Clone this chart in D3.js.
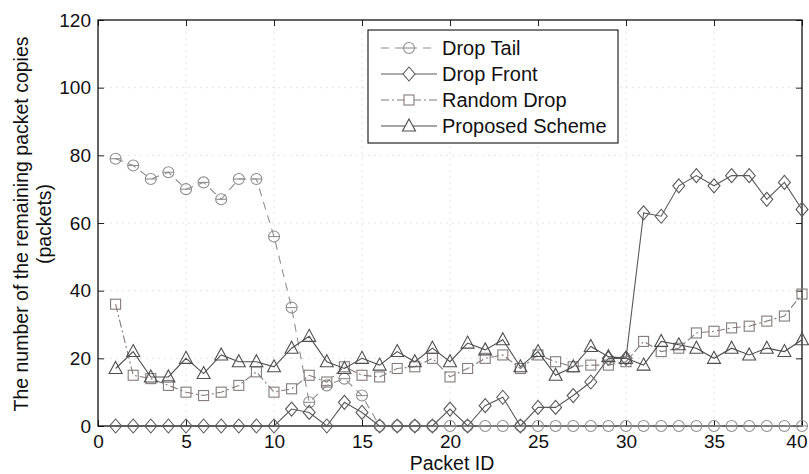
<!DOCTYPE html>
<html>
<head>
<meta charset="utf-8">
<script src="https://cdn.jsdelivr.net/npm/d3@7"></script>
<style>
  html, body { margin: 0; padding: 0; background: #fff; }
  svg { display: block; font-family: "Liberation Sans", Arial, Helvetica, sans-serif; }
</style>
</head>
<body>
<svg id="chart" width="809" height="474"></svg>
<script>
// Packet IDs 1..40
const packetIds = d3.range(1, 41);

// Remaining copies per packet for each buffer policy
const dropTail = [79, 77, 73, 75, 70, 72, 67, 73, 73, 56,
                  35, 7, 12, 14, 9, 0, 0, 0, 0, 0,
                  0, 0, 0, 0, 0, 0, 0, 0, 0, 0,
                  0, 0, 0, 0, 0, 0, 0, 0, 0, 0];
const dropFront = [0, 0, 0, 0, 0, 0, 0, 0, 0, 0,
                   5, 4, 0, 7, 4, 0, 0, 0, 0, 5,
                   0, 6, 8.5, 0, 5.5, 5.5, 9, 13, 20, 20,
                   63, 62, 71, 74, 71, 74, 74, 67, 72, 64];
const randomDrop = [36, 15, 14, 12, 10, 9, 10, 12, 16, 10,
                    11, 15, 13, 17.5, 15, 14.5, 17, 17.5, 20, 14.5,
                    17, 20, 21, 17, 21, 19, 17.5, 18, 18, 19,
                    25, 22, 23, 27.5, 28, 29, 29.5, 31, 32.5, 39];
const proposed = [17, 22, 14.5, 14.5, 20, 15.5, 21, 19, 19, 17.5,
                  23, 26.5, 19, 17, 20, 18, 22, 19, 23, 19,
                  24.5, 22.5, 25.5, 17.5, 22, 15, 17.5, 23.5, 20.5, 20,
                  18, 25, 24, 23, 20, 23, 21, 23, 22, 25.5];

const xTicks = [0, 5, 10, 15, 20, 25, 30, 35, 40];
const yTicks = [0, 20, 40, 60, 80, 100, 120];
const seriesNames = ["Drop Tail", "Drop Front", "Random Drop", "Proposed Scheme"];

(function draw() {
  const svg = d3.select("#chart");
  const plotL = 98, plotR = 802, plotT = 20, plotB = 426;

  const x = d3.scaleLinear().domain([0, 40]).range([plotL, plotR]);
  const y = d3.scaleLinear().domain([0, 120]).range([plotB, plotT]);

  // Faint dotted grid
  const grid = svg.append("g").attr("stroke", "#e4e4e4").attr("stroke-width", 1)
    .attr("stroke-dasharray", "2,4");
  grid.selectAll("line.h").data(yTicks.slice(1, -1)).join("line").attr("class", "h")
    .attr("x1", plotL).attr("x2", plotR)
    .attr("y1", d => y(d)).attr("y2", d => y(d));
  grid.selectAll("line.v").data(xTicks.slice(1, -1)).join("line").attr("class", "v")
    .attr("y1", plotT).attr("y2", plotB)
    .attr("x1", d => x(d)).attr("x2", d => x(d));

  // Axes with inward ticks on all four sides
  const tickLen = 6;
  const fontTick = 19;
  const gx = svg.append("g").attr("transform", `translate(0,${plotB})`)
    .call(d3.axisBottom(x).tickValues(xTicks).tickSizeInner(-tickLen).tickSizeOuter(0).tickPadding(9));
  const gxTop = svg.append("g").attr("transform", `translate(0,${plotT})`)
    .call(d3.axisTop(x).tickValues(xTicks).tickSizeInner(-tickLen).tickSizeOuter(0).tickFormat(""));
  const gy = svg.append("g").attr("transform", `translate(${plotL},0)`)
    .call(d3.axisLeft(y).tickValues(yTicks).tickSizeInner(-tickLen).tickSizeOuter(0).tickPadding(7));
  const gyRight = svg.append("g").attr("transform", `translate(${plotR},0)`)
    .call(d3.axisRight(y).tickValues(yTicks).tickSizeInner(-tickLen).tickSizeOuter(0).tickFormat(""));

  [gx, gxTop, gy, gyRight].forEach(g => {
    g.select(".domain").remove();
    g.selectAll(".tick line").attr("stroke", "#222").attr("stroke-width", 1);
    g.selectAll("text").attr("font-size", fontTick).attr("fill", "#111")
      .attr("font-family", "Liberation Sans, Arial, sans-serif");
  });
  // The last x label sits against the page edge; anchor it so it stays inside
  gx.selectAll(".tick").filter(d => d === 40).select("text")
    .attr("text-anchor", "end").attr("dx", 5);

  // Plot frame
  svg.append("rect").attr("x", plotL).attr("y", plotT)
    .attr("width", plotR - plotL).attr("height", plotB - plotT)
    .attr("fill", "none").attr("stroke", "#111").attr("stroke-width", 1.3);

  // Axis titles
  svg.append("text").attr("x", (plotL + plotR) / 2 + 2).attr("y", 470)
    .attr("text-anchor", "middle").attr("font-size", 19.5).attr("fill", "#111")
    .text("Packet ID");
  const yTitle = svg.append("text")
    .attr("transform", `translate(28,${(plotT + plotB) / 2 + 1}) rotate(-90)`)
    .attr("text-anchor", "middle").attr("font-size", 19.5).attr("fill", "#111");
  yTitle.append("tspan").attr("x", 0).attr("dy", 0).text("The number of the remaining packet copies");
  yTitle.append("tspan").attr("x", 0).attr("dy", 23).text("(packets)");

  // Open marker symbols
  const markers = {
    circle: (g) => g.append("circle").attr("r", 5.5),
    diamond: (g) => g.append("path").attr("d", "M0,-7L6,0L0,7L-6,0Z"),
    square: (g) => g.append("rect").attr("x", -5).attr("y", -5).attr("width", 10).attr("height", 10),
    triangle: (g) => g.append("path").attr("d", "M0,-7L6.5,5L-6.5,5Z")
  };

  const series = [
    { name: seriesNames[0], values: dropTail,   color: "#8e8e8e", dash: "8,6",     marker: "circle" },
    { name: seriesNames[1], values: dropFront,  color: "#5a5a5a", dash: null,      marker: "diamond" },
    { name: seriesNames[2], values: randomDrop, color: "#857b7c", dash: "8,3,2,3", marker: "square" },
    { name: seriesNames[3], values: proposed,   color: "#4e4e4e", dash: null,      marker: "triangle" }
  ];

  const line = d3.line().x((d, i) => x(packetIds[i])).y(d => y(d));

  const plot = svg.append("g");
  series.forEach(s => {
    plot.append("path").datum(s.values)
      .attr("d", line)
      .attr("fill", "none").attr("stroke", s.color).attr("stroke-width", 1.1)
      .attr("stroke-dasharray", s.dash);
    const mg = plot.append("g").attr("fill", "none").attr("stroke", s.color).attr("stroke-width", 1.1);
    s.values.forEach((v, i) => {
      const g = mg.append("g").attr("transform", `translate(${x(packetIds[i])},${y(v)})`);
      markers[s.marker](g);
      if (s.marker === "circle") {
        g.append("line").attr("x1", -5.5).attr("x2", 5.5).attr("y1", 0).attr("y2", 0);
      }
    });
  });

  // Legend
  const lg = svg.append("g");
  lg.append("rect").attr("x", 368).attr("y", 30).attr("width", 250).attr("height", 113)
    .attr("fill", "#fff").attr("stroke", "#111").attr("stroke-width", 1.1);
  const rowY = [48, 74, 100, 126];
  series.forEach((s, i) => {
    const ry = rowY[i];
    lg.append("line").attr("x1", 381).attr("x2", 437).attr("y1", ry).attr("y2", ry)
      .attr("stroke", s.color).attr("stroke-width", 1.1).attr("stroke-dasharray", s.dash);
    const g = lg.append("g").attr("transform", `translate(409,${ry})`)
      .attr("fill", "#fff").attr("stroke", s.color).attr("stroke-width", 1.1);
    markers[s.marker](g);
    if (s.marker === "circle") {
      g.append("line").attr("x1", -5.5).attr("x2", 5.5).attr("y1", 0).attr("y2", 0);
    }
    lg.append("text").attr("x", 442).attr("y", ry).attr("dy", "0.35em")
      .attr("font-size", 20).attr("fill", "#111").text(s.name);
  });
})();
</script>
</body>
</html>
